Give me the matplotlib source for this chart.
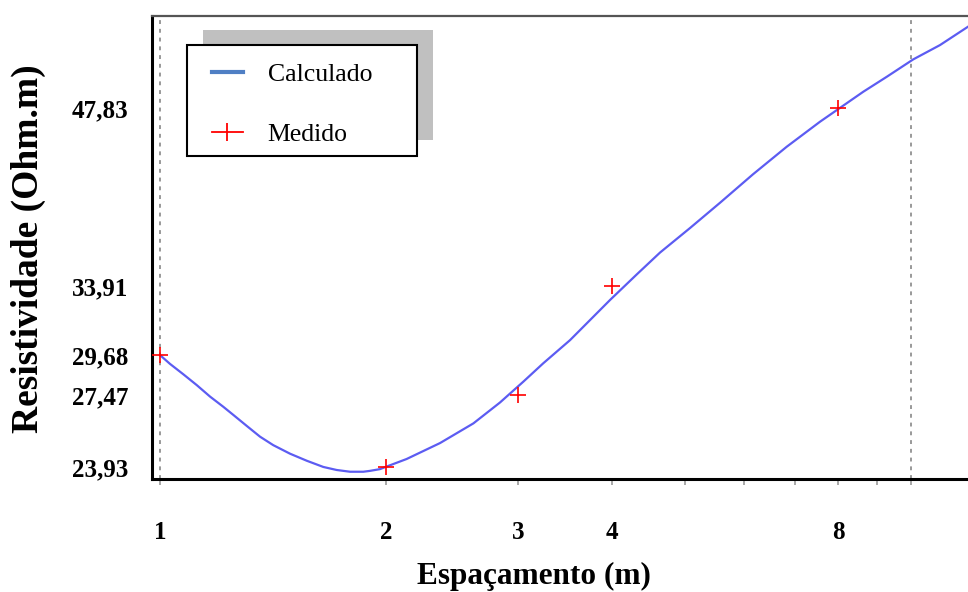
import matplotlib
matplotlib.use('Agg')
import matplotlib.pyplot as plt
from matplotlib.lines import Line2D
from matplotlib.patches import Rectangle
from matplotlib.ticker import FixedLocator, FixedFormatter, NullFormatter, NullLocator

# calculated curve
calc_x = [1.000, 1.031, 1.074, 1.119, 1.166, 1.214, 1.252, 1.305, 1.359, 1.415, 1.490,
          1.568, 1.650, 1.719, 1.791, 1.865, 1.904, 1.963, 2.004, 2.130, 2.360, 2.614,
          2.836, 3.046, 3.238, 3.516, 3.974, 4.313, 4.633, 5.078, 5.568, 6.160, 6.831,
          7.566, 8.641, 9.283, 10.07, 10.93, 11.91]
calc_y = [29.70, 29.20, 28.62, 28.03, 27.41, 26.88, 26.46, 25.90, 25.37, 24.96, 24.55,
          24.22, 23.93, 23.79, 23.71, 23.71, 23.75, 23.83, 23.95, 24.30, 25.06, 26.03,
          27.10, 28.21, 29.23, 30.57, 33.03, 34.70, 36.20, 37.95, 39.85, 42.10, 44.40,
          46.60, 49.38, 50.82, 52.56, 54.03, 55.98]

# measured points
med_x = [1, 2, 3, 4, 8]
med_y = [29.68, 23.93, 27.47, 33.91, 47.83]

xticks = [1, 2, 3, 4, 8]
xtick_labels = ['1', '2', '3', '4', '8']
yticks = [23.93, 27.47, 29.68, 33.91, 47.83]
ytick_labels = ['23,93', '27,47', '29,68', '33,91', '47,83']

serif = ['Liberation Serif', 'DejaVu Serif']

W, H = 968, 592
fig = plt.figure(figsize=(W / 100, H / 100), dpi=100)
ax = fig.add_axes([152 / W, 1 - 479 / H, 1 - 152 / W, (479 - 16) / H])

ax.set_xscale('log')
ax.set_yscale('log')

# dashed lines at 1 and 10
for gx in [1, 10]:
    ax.axvline(gx, color='#999999', lw=1.4, ls=(0, (2, 2.5)), zorder=1)

ax.plot(calc_x, calc_y, color='#5c5cf2', lw=1.6, zorder=2)
ax.plot(med_x, med_y, ls='none', marker='+', color='red', markersize=11, mew=1.2, zorder=3)

ax.set_xlim(0.9758, 11.91)
ax.set_ylim(23.38, 57.15)

# x ticks
ax.xaxis.set_major_locator(FixedLocator(xticks))
ax.xaxis.set_major_formatter(FixedFormatter(xtick_labels))
ax.xaxis.set_minor_locator(FixedLocator([5, 6, 7, 9, 10]))
ax.xaxis.set_minor_formatter(NullFormatter())
ax.tick_params(axis='x', which='both', direction='out', length=4.5, width=1.2,
               color='#999999', pad=26)
for lbl in ax.get_xticklabels():
    lbl.set_fontfamily(serif)
    lbl.set_fontweight('bold')
    lbl.set_fontsize(18)

# y ticks
ax.yaxis.set_major_locator(FixedLocator(yticks))
ax.yaxis.set_major_formatter(FixedFormatter(ytick_labels))
ax.yaxis.set_minor_locator(NullLocator())
ax.tick_params(axis='y', which='both', length=0, pad=17)
for lbl in ax.get_yticklabels():
    lbl.set_fontfamily(serif)
    lbl.set_fontweight('bold')
    lbl.set_fontsize(18)

ax.spines['right'].set_visible(False)
ax.spines['left'].set_linewidth(2.2)
ax.spines['bottom'].set_linewidth(2.2)
ax.spines['top'].set_linewidth(1.6)
ax.spines['top'].set_color('#555555')

fig.text(534 / W, 1 - 584 / H, 'Espaçamento (m)', ha='center', va='baseline',
         fontfamily=serif, fontweight='bold', fontsize=22.5)
fig.text(28 / W, 1 - 249 / H, 'Resistividade (Ohm.m)', ha='center', va='center',
         rotation=90, fontfamily=serif, fontweight='bold', fontsize=27)

# legend: grey shadow + white box, entries on top
ax.add_patch(Rectangle((203 / W, 1 - 140 / H), 230 / W, 110 / H, transform=fig.transFigure,
                       facecolor='#c0c0c0', edgecolor='none', zorder=4, clip_on=False))
ax.add_patch(Rectangle((187 / W, 1 - 156 / H), 230 / W, 111 / H, transform=fig.transFigure,
                       facecolor='white', edgecolor='black', lw=1.5, zorder=4.5,
                       clip_on=False))
handles = [Line2D([], [], color='#4f7fc4', lw=3),
           Line2D([], [], color='red', lw=1.3, marker='|', markersize=13, mew=1.3)]
leg = ax.legend(handles, ['Calculado', 'Medido'], loc='upper left',
                bbox_to_anchor=(212 / W, 1 - 63 / H), bbox_transform=fig.transFigure,
                borderaxespad=0, borderpad=0, frameon=False,
                prop={'family': serif, 'size': 18.5},
                handlelength=1.2, handletextpad=0.97, labelspacing=1.43, numpoints=1)
leg.set_zorder(5)

fig.savefig('out.png', dpi=100)
